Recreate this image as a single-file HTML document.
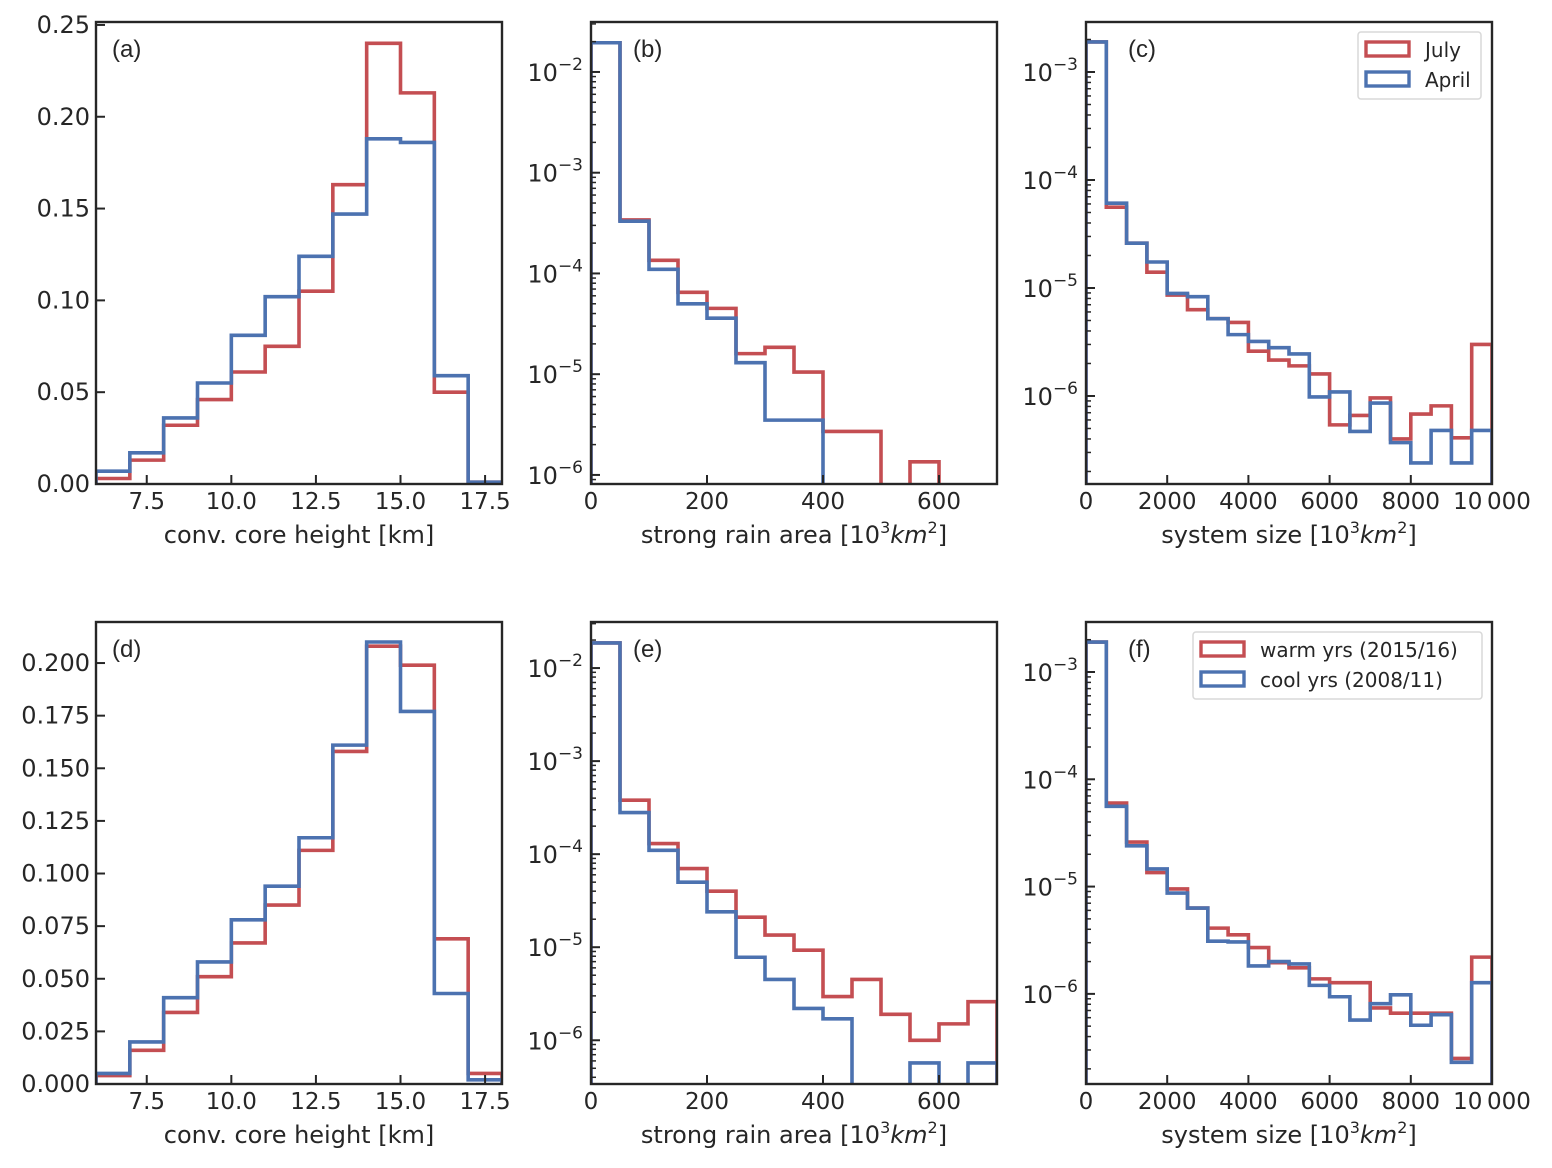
<!DOCTYPE html>
<html><head><meta charset="utf-8"><style>
body{margin:0;background:#fff;overflow:hidden}
svg text{font-family:"DejaVu Sans","Liberation Sans",sans-serif;fill:#262626}
</style></head><body>
<svg id="fig" width="1552" height="1163" xmlns="http://www.w3.org/2000/svg"></svg>
<script>
// ---- data ----
const heightBins = [6,7,8,9,10,11,12,13,14,15,16,17,18];
const aRed  = [0.003,0.013,0.032,0.046,0.061,0.075,0.105,0.163,0.240,0.213,0.050,0.001];
const aBlue = [0.007,0.017,0.036,0.055,0.081,0.102,0.124,0.147,0.188,0.186,0.059,0.001];
const dRed  = [0.004,0.016,0.034,0.051,0.067,0.085,0.111,0.158,0.208,0.199,0.069,0.005];
const dBlue = [0.005,0.020,0.041,0.058,0.078,0.094,0.117,0.161,0.210,0.177,0.043,0.002];
const rainBinWidth = 50;
const bRed  = [0.0195,3.4e-4,1.35e-4,6.5e-5,4.5e-5,1.6e-5,1.85e-5,1.05e-5,2.7e-6,2.7e-6,0,1.35e-6,0,0];
const bBlue = [0.0195,3.3e-4,1.1e-4,5e-5,3.6e-5,1.3e-5,3.5e-6,3.5e-6,0,0,0,0,0,0];
const eRed  = [0.0186,3.8e-4,1.3e-4,7e-5,4e-5,2.1e-5,1.35e-5,9.3e-6,2.95e-6,4.5e-6,1.9e-6,1e-6,1.5e-6,2.6e-6];
const eBlue = [0.0186,2.8e-4,1.1e-4,5e-5,2.4e-5,7.8e-6,4.5e-6,2.2e-6,1.7e-6,0,0,5.7e-7,0,5.7e-7];
const sizeBinWidth = 500;
const cRed  = [1.9e-3,5.6e-5,2.6e-5,1.4e-5,8.6e-6,6.3e-6,5.2e-6,4.8e-6,2.6e-6,2.15e-6,1.9e-6,1.6e-6,5.4e-7,6.6e-7,9.6e-7,4.0e-7,6.8e-7,8.1e-7,4.1e-7,3.0e-6];
const cBlue = [1.9e-3,6.1e-5,2.6e-5,1.74e-5,8.9e-6,8.3e-6,5.2e-6,3.7e-6,3.2e-6,2.8e-6,2.45e-6,9.8e-7,1.09e-6,4.7e-7,8.6e-7,3.7e-7,2.4e-7,4.8e-7,2.4e-7,4.8e-7];
const fRed  = [1.9e-3,6.0e-5,2.6e-5,1.35e-5,9.5e-6,6.3e-6,4.1e-6,3.55e-6,2.7e-6,1.95e-6,1.75e-6,1.38e-6,1.27e-6,1.27e-6,7.4e-7,6.6e-7,6.6e-7,6.6e-7,2.5e-7,2.2e-6];
const fBlue = [1.9e-3,5.6e-5,2.4e-5,1.46e-5,8.7e-6,6.3e-6,3.1e-6,3.05e-6,1.82e-6,2.0e-6,1.9e-6,1.2e-6,9.4e-7,5.7e-7,8.1e-7,9.8e-7,5.1e-7,6.4e-7,2.3e-7,1.27e-6];
const aYTicks = [0,0.05,0.10,0.15,0.20,0.25];
const aYLabels = ["0.00","0.05","0.10","0.15","0.20","0.25"];
const dYTicks = [0,0.025,0.05,0.075,0.1,0.125,0.15,0.175,0.2];
const dYLabels = ["0.000","0.025","0.050","0.075","0.100","0.125","0.150","0.175","0.200"];
const hXTicks = [7.5,10,12.5,15,17.5];
const hXLabels = ["7.5","10.0","12.5","15.0","17.5"];
const rXTicks = [0,200,400,600];
const sXTicks = [0,2000,4000,6000,8000,10000];
const sXLabels = ["0","2000","4000","6000","8000","10\u2009000"];
const logExps = [-6,-5,-4,-3,-2];

const RED="#c44e52", BLUE="#4c72b0", NS="http://www.w3.org/2000/svg";
const svg=document.getElementById('fig');
function el(tag,attrs,parent){const e=document.createElementNS(NS,tag);for(const k in attrs)e.setAttribute(k,attrs[k]);(parent||svg).appendChild(e);return e;}

function panel(p){
  const g=el('g',{});
  
  
  const X=v=>p.x+(v-p.xd[0])/(p.xd[1]-p.xd[0])*p.w;
  const Y=p.log?(v=>{const lv=v>0?Math.log10(v):p.yd[0]-2;return p.y+p.h-(lv-p.yd[0])/(p.yd[1]-p.yd[0])*p.h;})
               :(v=>p.y+p.h-(v-p.yd[0])/(p.yd[1]-p.yd[0])*p.h);
  const cid='clip'+p.id;
  const cp=el('clipPath',{id:cid},g);el('rect',{x:p.x,y:p.y,width:p.w,height:p.h},cp);
  p.series.forEach((s,si)=>{
    let d='M'+X(s.edges(0))+','+(p.y+p.h+20);
    s.vals.forEach((v,i)=>{d+=' L'+X(s.edges(i))+','+Y(v)+' L'+X(s.edges(i+1))+','+Y(v);});
    d+=' L'+X(s.edges(s.vals.length))+','+(p.y+p.h+20);
    const path=el('path',{d:d,fill:'none',stroke:s.color,'stroke-width':3.6,'clip-path':'url(#'+cid+')'},g);
    
    
  });
  p.xt.forEach((t,i)=>{const x=X(t);el('line',{x1:x,x2:x,y1:p.y+p.h,y2:p.y+p.h-9,stroke:'#262626','stroke-width':2},g);
    const tx=el('text',{x:x,y:p.y+p.h+25,'font-size':23,'text-anchor':'middle'},g);tx.textContent=p.xl[i];
    
    });
  if(p.log){
    for(let e=Math.floor(p.yd[0]);e<=Math.ceil(p.yd[1]);e++){
      for(let k=1;k<10;k++){const lv=e+Math.log10(k);if(lv<p.yd[0]||lv>p.yd[1])continue;
        const y=p.y+p.h-(lv-p.yd[0])/(p.yd[1]-p.yd[0])*p.h;
        el('line',{x1:p.x,x2:p.x+(k==1?9:5),y1:y,y2:y,stroke:'#262626','stroke-width':k==1?2:1.5},g);}
    }
    logExps.forEach(e=>{if(e<p.yd[0]||e>p.yd[1])return;const y=p.y+p.h-(e-p.yd[0])/(p.yd[1]-p.yd[0])*p.h;
      const tx=el('text',{x:p.x-8,y:y+9,'font-size':24,'text-anchor':'end'},g);
      
      
      const a=el('tspan',{},tx);a.textContent='10';const b=el('tspan',{dy:-11,'font-size':17},tx);b.textContent='\u2212'+(-e);});
  } else {
    p.yt.forEach((t,i)=>{const y=Y(t);el('line',{x1:p.x,x2:p.x+9,y1:y,y2:y,stroke:'#262626','stroke-width':2},g);
      const tx=el('text',{x:p.x-6,y:y+8,'font-size':24,'text-anchor':'end'},g);tx.textContent=p.yl[i];
      
      });
  }
  el('rect',{x:p.x,y:p.y,width:p.w,height:p.h,fill:'none',stroke:'#262626','stroke-width':2.4},g);
  const lab=el('text',{x:p.x+(p.log?42:16),y:p.y+35,'font-size':24,style:'font-family:"Liberation Sans",sans-serif'},g);lab.textContent='('+p.id+')';
  
  
  const xl=el('text',{x:p.x+p.w/2,y:p.y+p.h+59,'font-size':24,'text-anchor':'middle'},g);
  
  
  if(p.xunit){const a=el('tspan',{},xl);a.textContent=p.xtitle+' [10';const b=el('tspan',{dy:-10,'font-size':16},xl);b.textContent='3';
    const c=el('tspan',{dy:10,'font-style':'italic'},xl);c.textContent='km';const d=el('tspan',{dy:-10,'font-size':16},xl);d.textContent='2';const f=el('tspan',{dy:10},xl);f.textContent=']';}
  else xl.textContent=p.xtitle;
  if(p.legend){const L=p.legend;const lg=el('g',{},g);
    
    
    el('rect',{x:L.x,y:L.y,width:L.w,height:67,rx:3,fill:'#fff',stroke:'#d8d8d8','stroke-width':1.5},lg);
    L.items.forEach((it,i)=>{
      el('rect',{x:L.x+8,y:L.y+10+i*30,width:43,height:14,fill:'none',stroke:it[1],'stroke-width':3.4},lg);
      const t=el('text',{x:L.x+67,y:L.y+25+i*30,'font-size':20},lg);t.textContent=it[0];
      
      });
  }
}
const hE=i=>heightBins[i], rE=i=>i*rainBinWidth, sE=i=>i*sizeBinWidth;
const W=406,H=462;
panel({id:'a',x:96,y:22,w:W,h:H,xd:[6,18],yd:[0,0.2516],log:false,xt:hXTicks,xl:hXLabels,yt:aYTicks,yl:aYLabels,xtitle:'conv. core height [km]',
  series:[{vals:aRed,color:RED,edges:hE,name:'july-histogram'},{vals:aBlue,color:BLUE,edges:hE,name:'april-histogram'}]});
panel({id:'b',x:591,y:22,w:W,h:H,xd:[0,700],yd:[-6.09,-1.504],log:true,xt:rXTicks,xl:rXTicks.map(String),xtitle:'strong rain area',xunit:true,
  series:[{vals:bRed,color:RED,edges:rE,name:'july-histogram'},{vals:bBlue,color:BLUE,edges:rE,name:'april-histogram'}]});
panel({id:'c',x:1086,y:22,w:W,h:H,xd:[0,10000],yd:[-6.815,-2.537],log:true,xt:sXTicks,xl:sXLabels,xtitle:'system size',xunit:true,
  legend:{x:1358,y:32,w:123,items:[['July',RED],['April',BLUE]]},
  series:[{vals:cRed,color:RED,edges:sE,name:'july-histogram'},{vals:cBlue,color:BLUE,edges:sE,name:'april-histogram'}]});
panel({id:'d',x:96,y:622,w:W,h:H,xd:[6,18],yd:[0,0.2195],log:false,xt:hXTicks,xl:hXLabels,yt:dYTicks,yl:dYLabels,xtitle:'conv. core height [km]',
  series:[{vals:dRed,color:RED,edges:hE,name:'warm-years-histogram'},{vals:dBlue,color:BLUE,edges:hE,name:'cool-years-histogram'}]});
panel({id:'e',x:591,y:622,w:W,h:H,xd:[0,700],yd:[-6.47,-1.505],log:true,xt:rXTicks,xl:rXTicks.map(String),xtitle:'strong rain area',xunit:true,
  series:[{vals:eRed,color:RED,edges:rE,name:'warm-years-histogram'},{vals:eBlue,color:BLUE,edges:rE,name:'cool-years-histogram'}]});
panel({id:'f',x:1086,y:622,w:W,h:H,xd:[0,10000],yd:[-6.84,-2.534],log:true,xt:sXTicks,xl:sXLabels,xtitle:'system size',xunit:true,
  legend:{x:1193,y:632,w:289,items:[['warm yrs (2015/16)',RED],['cool yrs (2008/11)',BLUE]]},
  series:[{vals:fRed,color:RED,edges:sE,name:'warm-years-histogram'},{vals:fBlue,color:BLUE,edges:sE,name:'cool-years-histogram'}]});
</script>
</body></html>
